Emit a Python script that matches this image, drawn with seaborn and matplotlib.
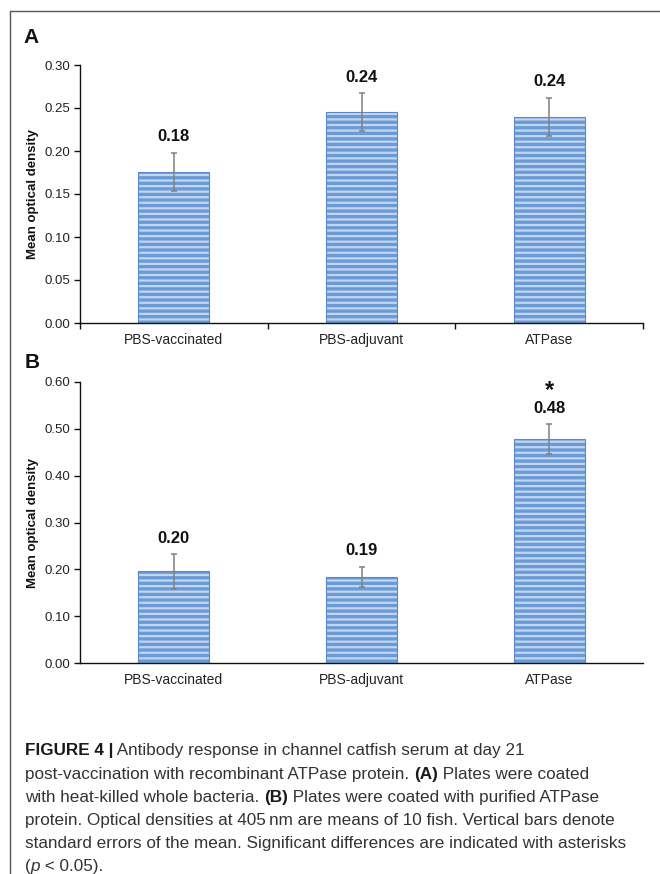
import matplotlib
matplotlib.use("Agg")
import matplotlib.pyplot as plt
import seaborn as sns
import pandas as pd
from matplotlib.lines import Line2D

categories = ["PBS-vaccinated", "PBS-adjuvant", "ATPase"]
means_a = [0.176, 0.245, 0.240]
se_a = [0.022, 0.022, 0.022]
labels_a = ["0.18", "0.24", "0.24"]
means_b = [0.196, 0.184, 0.478]
se_b = [0.037, 0.022, 0.032]
labels_b = ["0.20", "0.19", "0.48"]
sig_b = ["", "", "*"]

sns.set_theme(style="white")
plt.rcParams["font.family"] = ["Liberation Sans", "DejaVu Sans"]
plt.rcParams["hatch.linewidth"] = 1.6

W, H = 660, 874
fig = plt.figure(figsize=(W / 100, H / 100), dpi=100)

FACE = "#6b9bd7"
STRIPE = "#c2d6f0"
EDGE = "#5a89c9"


def panel(rect, means, se, labels, ymax, step, xticks, sig=None):
    ax = fig.add_axes(rect)
    df = pd.DataFrame({"cat": categories, "val": means})
    sns.barplot(data=df, x="cat", y="val", ax=ax, color=FACE, width=0.38,
                errorbar=None, hatch="---", edgecolor=STRIPE, linewidth=0,
                saturation=1)
    sns.barplot(data=df, x="cat", y="val", ax=ax, width=0.38, errorbar=None,
                fill=False, edgecolor=EDGE, linewidth=0.8)
    pos = list(range(len(categories)))
    ax.errorbar(pos, means, yerr=se, fmt="none", ecolor="#808080",
                elinewidth=1.1, capsize=2.2, capthick=1.1, zorder=5)
    for i, (m, s, lab) in enumerate(zip(means, se, labels)):
        ax.annotate(lab, (i, m + s), xytext=(0, 6), textcoords="offset points",
                    ha="center", va="bottom", fontsize=12, fontweight="bold",
                    color="#111111",
                    family=["Liberation Sans Narrow", "Liberation Sans"])
        if sig and sig[i]:
            ax.annotate(sig[i], (i, m + s), xytext=(0, 16),
                        textcoords="offset points", ha="center", va="bottom",
                        fontsize=17, fontweight="bold", color="#111111")
    ax.set_xlim(-0.5, 2.5)
    ax.set_ylim(0, ymax)
    yt = [round(k * step, 2) for k in range(int(round(ymax / step)) + 1)]
    ax.set_yticks(yt)
    ax.set_yticklabels([f"{v:.2f}" for v in yt], fontsize=9.5, color="#222222")
    ax.set_xlabel("")
    ax.set_ylabel("Mean optical density", fontsize=9.5, fontweight="bold",
                  color="#111111", labelpad=4)
    for sp in ["top", "right"]:
        ax.spines[sp].set_visible(False)
    for sp in ["left", "bottom"]:
        ax.spines[sp].set_color("#111111")
        ax.spines[sp].set_linewidth(1.0)
    ax.tick_params(axis="y", left=True, length=4, width=1, color="#111111",
                   pad=3)
    ax.set_xticks(pos)
    ax.set_xticklabels(categories, fontsize=10, color="#222222")
    ax.tick_params(axis="x", which="major", bottom=False, length=0, pad=7)
    if xticks:
        ax.set_xticks([-0.5, 0.5, 1.5, 2.5], minor=True)
        ax.tick_params(axis="x", which="minor", bottom=True, length=4,
                       width=1, color="#111111")
    return ax


panel([80 / W, 1 - 323 / H, 563 / W, 258 / H], means_a, se_a, labels_a,
      0.30, 0.05, True)
panel([80 / W, 1 - 663 / H, 563 / W, 281 / H], means_b, se_b, labels_b,
      0.60, 0.10, False, sig_b)

fig.text(23 / W, 1 - 43 / H, "A", fontsize=15, fontweight="bold",
         color="#111111")
fig.text(25 / W, 1 - 368 / H, "B", fontsize=15, fontweight="bold",
         color="#111111")

# frame lines
fig.add_artist(Line2D([10.5 / W, 10.5 / W], [0, 1 - 10.5 / H],
                      color="#555555", lw=1.0))
fig.add_artist(Line2D([10.5 / W, 1], [1 - 10.5 / H, 1 - 10.5 / H],
                      color="#555555", lw=1.0))

# caption
cap_lines = [
    [("FIGURE 4 |", "bold"), (" Antibody response in channel catfish serum at day 21", "normal")],
    [("post-vaccination with recombinant ATPase protein. ", "normal"), ("(A)", "bold"),
     (" Plates were coated", "normal")],
    [("with heat-killed whole bacteria. ", "normal"), ("(B)", "bold"),
     (" Plates were coated with purified ATPase", "normal")],
    [("protein. Optical densities at 405\u2009nm are means of 10 fish. Vertical bars denote", "normal")],
    [("standard errors of the mean. Significant differences are indicated with asterisks", "normal")],
    [("(", "normal"), ("p", "italic"), (" < 0.05).", "normal")],
]
renderer = fig.canvas.get_renderer()
CAP_FS = 12.3
for li, segs in enumerate(cap_lines):
    x = 25
    yb = 755.5 + li * 23.2
    for txt, st in segs:
        kw = dict(fontsize=CAP_FS, color="#333333", va="baseline", ha="left",
                  family=["Liberation Sans", "DejaVu Sans"])
        if st == "bold":
            kw["fontweight"] = "bold"
            kw["color"] = "#1a1a1a"
        if st == "italic":
            kw["fontstyle"] = "italic"
        t = fig.text(x / W, 1 - yb / H, txt, **kw)
        bb = t.get_window_extent(renderer)
        x += bb.width

fig.savefig("out.png", dpi=100)
